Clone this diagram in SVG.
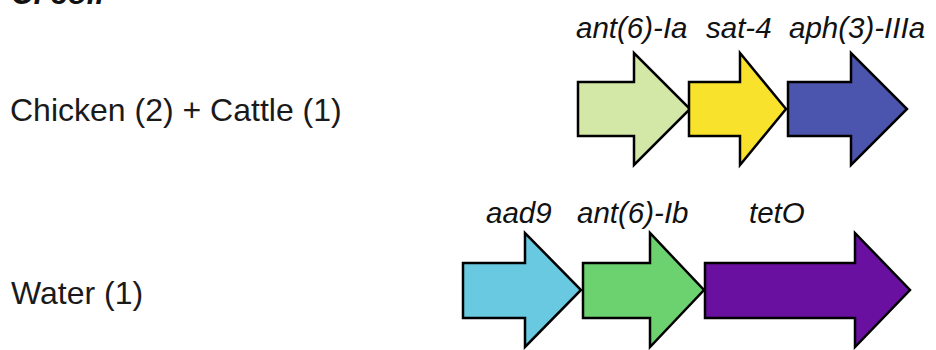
<svg xmlns="http://www.w3.org/2000/svg" width="936" height="350" viewBox="0 0 936 350">
<style>
.lbl{font-family:"Liberation Sans",Arial,sans-serif;font-size:32px;fill:#1a1a1a}
.gene{font-family:"Liberation Sans",Arial,sans-serif;font-size:29.5px;font-style:italic;fill:#111}
.title{font-family:"Liberation Sans",Arial,sans-serif;font-size:31px;font-style:italic;font-weight:bold;fill:#111}
.arr{stroke:#000;stroke-width:2.5;stroke-linejoin:miter}
</style>
<rect width="936" height="350" fill="#fff"/>
<text class="title" x="11" y="4">C. coli</text>
<g id="row1-label"><text class="lbl" x="10" y="121">Chicken (2) + Cattle (1)</text></g>
<g id="row2-label"><text class="lbl" x="11" y="304">Water (1)</text></g>
<g id="ant6Ia">
<path class="arr" fill="#d3e8a7" d="M578,82 H634 V53 L690,109 L634,165 V136 H578 Z"/>
<text class="gene" x="576" y="38">ant(6)-Ia</text>
</g>
<g id="sat4">
<path class="arr" fill="#f8e22c" d="M689,82 H740 V53 L786,109 L740,165 V136 H689 Z"/>
<text class="gene" x="706" y="38">sat-4</text>
</g>
<g id="aph3IIIa">
<path class="arr" fill="#4c55ad" d="M788,82 H851 V53 L907,109 L851,165 V136 H788 Z"/>
<text class="gene" x="789" y="38">aph(3)-IIIa</text>
</g>
<g id="aad9">
<path class="arr" fill="#68c9e1" d="M463,263 H525 V233 L581,290 L525,347 V318 H463 Z"/>
<text class="gene" x="486" y="223">aad9</text>
</g>
<g id="ant6Ib">
<path class="arr" fill="#6cd16f" d="M583,263 H650 V233 L704,290 L650,347 V318 H583 Z"/>
<text class="gene" x="577" y="223">ant(6)-Ib</text>
</g>
<g id="tetO">
<path class="arr" fill="#6a10a0" d="M705,263 H855 V233 L910,290 L855,347 V318 H705 Z"/>
<text class="gene" x="749" y="223">tetO</text>
</g>
<g id="connectors"></g>
</svg>
